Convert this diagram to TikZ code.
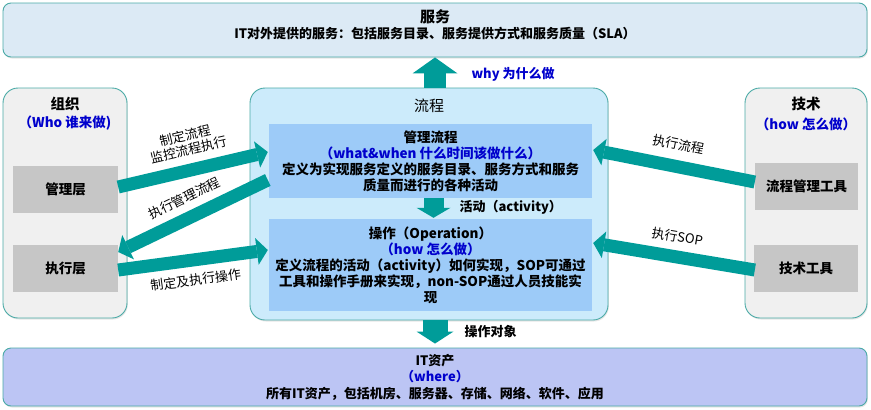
\documentclass[tikz,border=0pt]{standalone}
\usepackage{fontspec}
\setmainfont{Noto Sans CJK SC}
\usepackage{tikz}
\usetikzlibrary{arrows.meta, calc, positioning, shadows}
\usepackage{xcolor}

\definecolor{rimteal}{HTML}{4AAAA6}
\definecolor{arrowteal}{HTML}{009C99}
\definecolor{servfill}{HTML}{DCEAF5}
\definecolor{sidefill}{HTML}{F0F0F0}
\definecolor{procfill}{HTML}{CCEBFB}
\definecolor{innerfill}{HTML}{9DCBF8}
\definecolor{layerfill}{HTML}{C6C6C6}
\definecolor{assetfill}{HTML}{BCC5F4}
\definecolor{whoblue}{HTML}{0000CC}

\tikzset{
  panel/.style={draw=rimteal, line width=0.9pt, rounded corners=15pt,
    drop shadow={opacity=0.2, shadow xshift=0.8pt, shadow yshift=-1.5pt}},
  layer/.style={fill=layerfill, minimum width=105pt, minimum height=47pt,
    font=\fontsize{13.5}{16}\selectfont\bfseries},
  inner/.style={fill=innerfill, minimum width=323pt, align=center,
    font=\fontsize{13.5}{16}\selectfont\bfseries},
  ttl/.style={font=\fontsize{14.5}{17}\selectfont\bfseries},
  bluetx/.style={text=whoblue, font=\fontsize{13.5}{16}\selectfont\bfseries},
  lbl/.style={sloped, inner sep=0.5pt, align=center, font=\fontsize{13}{15}\selectfont},
  blbl/.style={anchor=west, font=\fontsize{13}{16}\selectfont\bfseries},
  fatarrow/.style={draw=arrowteal, line width=13pt,
    -{Triangle[length=11pt, width=27pt, line width=0pt]}},
}

\begin{document}
\begin{tikzpicture}[x=1pt, y=-1pt]
  \useasboundingbox (0,0) rectangle (871,410);

  % outer panels
  \node[panel, fill=servfill, rounded corners=8pt, minimum width=864pt, minimum height=54pt] (serv) at (435,30) {};
  \node[panel, fill=sidefill, minimum width=124pt, minimum height=230pt] (org) at (65,203) {};
  \node[panel, fill=procfill, minimum width=358pt, minimum height=232pt] (proc) at (429,204) {};
  \node[panel, fill=sidefill, minimum width=122pt, minimum height=230pt] (tech) at (806,203) {};
  \node[panel, fill=assetfill, rounded corners=8pt, minimum width=864pt, minimum height=58pt,
    align=center, font=\fontsize{13}{16.5}\selectfont\bfseries] (asset) at (435,377)
    {IT资产\\ \textcolor{whoblue}{（where）}\\ 所有IT资产，包括机房、服务器、存储、网络、软件、应用};

  % panel titles
  \node[ttl, font=\fontsize{15}{17}\selectfont\bfseries] (servttl) at (435,17) {服务};
  \node[font=\fontsize{13}{16}\selectfont\bfseries] (servsub) at (435,33) {IT对外提供的服务：包括服务目录、服务提供方式和服务质量（SLA）};
  \node[ttl] (orgttl) at (65,104) {组织};
  \node[bluetx] (orgwho) at (65,123) {（Who 谁来做)};
  \node[ttl] (techttl) at (806,104) {技术};
  \node[bluetx] (techhow) at (806,124) {（how 怎么做）};
  \node[font=\fontsize{15}{17}\selectfont] (procttl) at (429,106) {流程};

  % layers and tools
  \node[layer] (mgr) at (65.5,189.5) {管理层};
  \node[layer] (exe) at (65.5,268.5) {执行层};
  \node[layer, minimum width=103pt] (tool) at (806.5,186.5) {流程管理工具};
  \node[layer, minimum width=104pt] (techtool) at (806,268.5) {技术工具};

  % inner process boxes
  \node[inner, minimum height=74pt] (mproc) at (430.5,161)
    {管理流程\\ \textcolor{whoblue}{（what\&when 什么时间该做什么）}\\
     定义为实现服务定义的服务目录、服务方式和服务\\ 质量而进行的各种活动};
  \node[inner, minimum height=92pt] (oper) at (430.5,265)
    {操作（Operation）\\ \textcolor{whoblue}{（how 怎么做）}\\
     定义流程的活动（activity）如何实现，SOP可通过\\
     工具和操作手册来实现，non-SOP通过人员技能实\\ 现};

  % vertical arrows
  \draw[fatarrow, line width=22pt, -{Triangle[length=16pt, width=45pt, line width=0pt]}]
    (serv.south |- proc.north) -- (serv.south);
  \node[blbl, text=whoblue] (why) at (468,74) {why 为什么做};
  \draw[fatarrow, line width=20pt, -{Triangle[length=10pt, width=34pt, line width=0pt]}]
    ($(mproc.south)+(3,0)$) -- ($(oper.north)+(3,-1)$);
  \node[blbl] (act) at (456,207) {活动（activity）};
  \draw[fatarrow, line width=25pt, -{Triangle[length=12pt, width=37pt, line width=0pt]}]
    (serv.south |- proc.south) -- ($(asset.north)+(0,-4)$);
  \node[blbl] (target) at (461,332) {操作对象};

  % side arrows
  \draw[fatarrow] ($(mgr.east)+(0,-2.5)$) -- ($(mproc.west)+(-1,-9)$)
    node[lbl, midway, above=7pt] {制定流程\\ 监控流程执行};
  \draw[fatarrow] ($(mproc.west)+(-1,19)$) -- ($(exe.east)+(0,-16.5)$)
    node[lbl, midway, above=7pt] {执行管理流程};
  \draw[fatarrow] ($(exe.east)+(0,1.5)$) -- ($(oper.west)+(-1,-15)$)
    node[lbl, midway, below=7pt] {制定及执行操作};
  \draw[fatarrow] ($(tool.west)+(0,-4.5)$) -- ($(mproc.east)+(1,-11)$)
    node[lbl, midway, above=9pt] {执行流程};
  \draw[fatarrow] ($(techtool.west)+(1,1.5)$) -- ($(oper.east)+(1,-22)$)
    node[lbl, midway, above=7pt] {执行SOP};
\end{tikzpicture}
\end{document}
